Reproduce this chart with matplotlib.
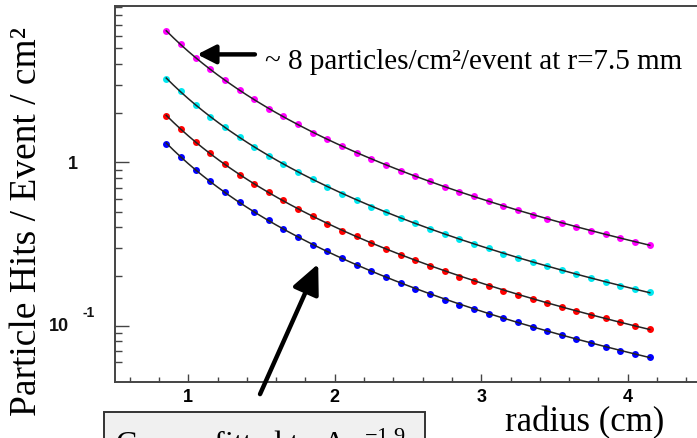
import numpy as np
import matplotlib
matplotlib.use("Agg")
import matplotlib.pyplot as plt
from matplotlib.patches import Rectangle

plt.rcParams['mathtext.fontset'] = 'custom'
plt.rcParams['mathtext.rm'] = 'Liberation Serif'
plt.rcParams['mathtext.it'] = 'Liberation Serif:italic'

# ---- data ----
radius = [0.85, 0.95, 1.05, 1.15, 1.25, 1.35, 1.45, 1.55, 1.65, 1.75, 1.85, 1.95,
          2.05, 2.15, 2.25, 2.35, 2.45, 2.55, 2.65, 2.75, 2.85, 2.95, 3.05, 3.15,
          3.25, 3.35, 3.45, 3.55, 3.65, 3.75, 3.85, 3.95, 4.05, 4.15]

magenta_hits = [6.36, 5.30, 4.39, 3.72, 3.22, 2.79, 2.44, 2.135, 1.915, 1.71, 1.52, 1.384,
                1.26, 1.147, 1.054, 0.968, 0.893, 0.821, 0.765, 0.707, 0.664, 0.619, 0.578, 0.543,
                0.508, 0.478, 0.4515, 0.4266, 0.405, 0.3826, 0.3637, 0.3437, 0.3262, 0.3127]

cyan_hits = [3.26, 2.73, 2.26, 1.90, 1.649, 1.432, 1.243, 1.099, 0.978, 0.880, 0.794, 0.712,
             0.643, 0.590, 0.537, 0.496, 0.458, 0.425, 0.392, 0.3637, 0.340, 0.317, 0.2984, 0.2754,
             0.2602, 0.2449, 0.2314, 0.2187, 0.2066, 0.1953, 0.1854, 0.1759, 0.168, 0.1603]

red_hits = [1.926, 1.603, 1.334, 1.136, 0.978, 0.844, 0.740, 0.658, 0.585, 0.518, 0.469, 0.4223,
            0.3826, 0.3526, 0.3207, 0.2968, 0.2727, 0.2530, 0.2334, 0.2157, 0.1998, 0.1872, 0.1759, 0.1639,
            0.155, 0.1458, 0.1378, 0.1297, 0.1231, 0.1168, 0.111, 0.1049, 0.100, 0.0954]

blue_hits = [1.302, 1.084, 0.902, 0.765, 0.658, 0.572, 0.496, 0.441, 0.392, 0.3485, 0.314, 0.2852,
             0.2602, 0.2357, 0.2157, 0.1981, 0.182, 0.168, 0.1565, 0.1444, 0.1345, 0.1266, 0.118, 0.111,
             0.1049, 0.0986, 0.0928, 0.0877, 0.0829, 0.0783, 0.0743, 0.0702, 0.0671, 0.064]

series = [(magenta_hits, '#ff00ff'), (cyan_hits, '#00e8f0'),
          (red_hits, '#ff0000'), (blue_hits, '#0000ff')]

xticks = [1, 2, 3, 4]
xtick_labels = ['1', '2', '3', '4']

# ---- figure ----
W, H = 697, 439
fig = plt.figure(figsize=(W / 100, H / 100), dpi=100)
ax = fig.add_axes([115 / W, (H - 383) / H, 586 / W, 376 / H])
ax.set_xlim(0.5, 4.5)
ax.set_yscale('log')
ax.set_ylim(0.0451, 9.11)

r = np.array(radius)
rfine = np.linspace(r.min(), r.max(), 200)
for vals, col in series:
    v = np.array(vals)
    ax.plot(r, v, 'o', ms=5, mec='none', mfc=col, zorder=2)
    coef = np.polyfit(np.log(r), np.log(v), 2)
    ax.plot(rfine, np.exp(np.polyval(coef, np.log(rfine))), color='#222222', lw=1.1, zorder=3)

spine_col = '#444444'
for s in ax.spines.values():
    s.set_color(spine_col)
    s.set_linewidth(1.4)

ax.set_xticks(xticks)
ax.set_xticklabels(xtick_labels, fontfamily='Liberation Sans', fontweight='bold', fontsize=13)
ax.set_xticks(np.arange(0.6, 4.5, 0.2), minor=True)
ax.tick_params(axis='x', which='major', direction='in', length=6, width=1, color=spine_col, pad=4)
ax.tick_params(axis='x', which='minor', direction='in', length=3.5, width=1, color=spine_col)

ax.set_yticks([0.1, 1])
ax.set_yticklabels(['', ''])
ax.set_yticks([0.06, 0.07, 0.08, 0.09, 0.2, 0.3, 0.4, 0.5, 0.6, 0.7, 0.8, 0.9,
               2, 3, 4, 5, 6, 7, 8, 9], minor=True)
ax.yaxis.set_minor_formatter(matplotlib.ticker.NullFormatter())
ax.tick_params(axis='y', which='major', direction='in', length=10, width=1, color=spine_col)
ax.tick_params(axis='y', which='minor', direction='in', length=5, width=1, color=spine_col)

# y tick labels in ROOT style
tl = dict(fontfamily='Liberation Sans', fontweight='bold', color='#111111')
ax.annotate('1', xy=(0, 1.0), xycoords=('axes fraction', 'data'), xytext=(-37 * 0.72, -1),
            textcoords='offset points', ha='right', va='center', fontsize=13, **tl)
ax.annotate('10', xy=(0, 0.1), xycoords=('axes fraction', 'data'), xytext=(-46 * 0.72, 0),
            textcoords='offset points', ha='right', va='center', fontsize=13, **tl)
ax.annotate('-1', xy=(0, 0.1), xycoords=('axes fraction', 'data'), xytext=(-32 * 0.72, 14 * 0.72),
            textcoords='offset points', ha='left', va='center', fontsize=10, **tl)

# axis titles
serif = 'Liberation Serif'
fig.text(27 / W, 1 - 221 / H, 'Particle Hits / Event / cm²', rotation=90, ha='center',
         va='center', fontsize=27, fontfamily=serif)
fig.text(585 / W, 1 - 423 / H, 'radius (cm)', ha='center', va='center', fontsize=25,
         fontfamily=serif)

# annotations
ax.annotate('', xy=(1.061, 4.6), xytext=(1.455, 4.6),
            arrowprops=dict(arrowstyle='-|>,head_length=0.55,head_width=0.28', lw=3.2,
                            color='black', mutation_scale=20, shrinkA=0, shrinkB=0))
ax.text(1.526, 3.81, '~ 8 particles/cm²/event at r=7.5 mm', fontsize=21, fontfamily=serif,
        ha='left', va='baseline')
ax.annotate('', xy=(1.887, 0.239), xytext=(1.49, 0.038),
            arrowprops=dict(arrowstyle='-|>,head_length=0.9,head_width=0.42', lw=3.2,
                            color='black', mutation_scale=20, shrinkA=0, shrinkB=0),
            annotation_clip=False)

# fit caption box (cropped at the figure bottom, as in the reference)
box = Rectangle((104 / W, -0.06), 321 / W, 0.06 + (H - 412.7) / H, transform=fig.transFigure,
                facecolor='#f0f0f0', edgecolor='#333333', lw=1.4, clip_on=False)
fig.patches.append(box)
fig.text(115 / W, (H - 454) / H, r'Curves fitted to A r$^{\mathrm{-1.9}}$', fontsize=23,
         fontfamily=serif, ha='left', va='baseline')

fig.savefig('out.png', dpi=100)
